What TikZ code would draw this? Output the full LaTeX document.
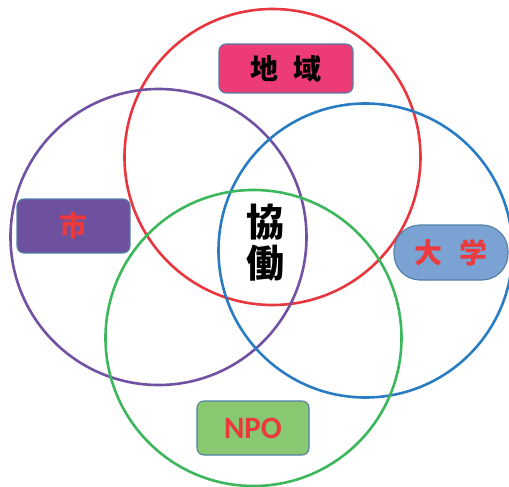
\documentclass[tikz,border=0pt]{standalone}
\usepackage{fontspec}
\setmainfont{Carlito}
\newfontfamily\cjk{Noto Sans CJK JP}
\definecolor{cred}{HTML}{E8363F}
\definecolor{cpurple}{HTML}{7151A1}
\definecolor{cblue}{HTML}{2A7CC2}
\definecolor{cgreen}{HTML}{3DB75C}
\definecolor{fpink}{HTML}{EC3B77}
\definecolor{fpurple}{HTML}{6E519E}
\definecolor{fblue}{HTML}{7AA3D4}
\definecolor{fgreen}{HTML}{88C871}
\definecolor{bord}{HTML}{527FA6}
\definecolor{tred}{HTML}{EA3A3E}
\tikzset{
  ring/.style={line width=2.6pt},
  lbl/.style={draw=bord, line width=1.1pt, rounded corners=7pt, inner sep=0pt, font=\cjk\bfseries\fontsize{28}{28}\selectfont},
}
\begin{document}
\begin{tikzpicture}[x=1pt,y=-1pt]
\useasboundingbox (0,0) rectangle (509,487);
\draw[ring, cred] (272.5,157) circle (148);
\draw[ring, cpurple] (158.5,237) circle (148);
\draw[ring, cblue] (365.5,250.5) circle (147);
\draw[ring, cgreen] (253.5,338) circle (148);
\node[lbl, fill=fpink, minimum width=134pt, minimum height=49pt, text=black] (chiiki) at (286,68.5) {地\hspace{15pt}域};
\node[lbl, fill=fpurple, minimum width=113pt, minimum height=54pt, text=tred] (shi) at (73.5,226) {市};
\node[lbl, fill=fblue, minimum width=114pt, minimum height=55pt, rounded corners=26pt, text=tred] (daigaku) at (451,252.5) {大\hspace{17pt}学};
\node[lbl, fill=fgreen, minimum width=112pt, minimum height=54pt, text=tred, font=\bfseries\fontsize{31}{31}\selectfont] (npo) at (253,428) {NPO};
\node[font=\cjk\bfseries\fontsize{38}{41}\selectfont, align=center, inner sep=0pt] (kyodo) at (265,243) {協\\働};
\end{tikzpicture}
\end{document}
